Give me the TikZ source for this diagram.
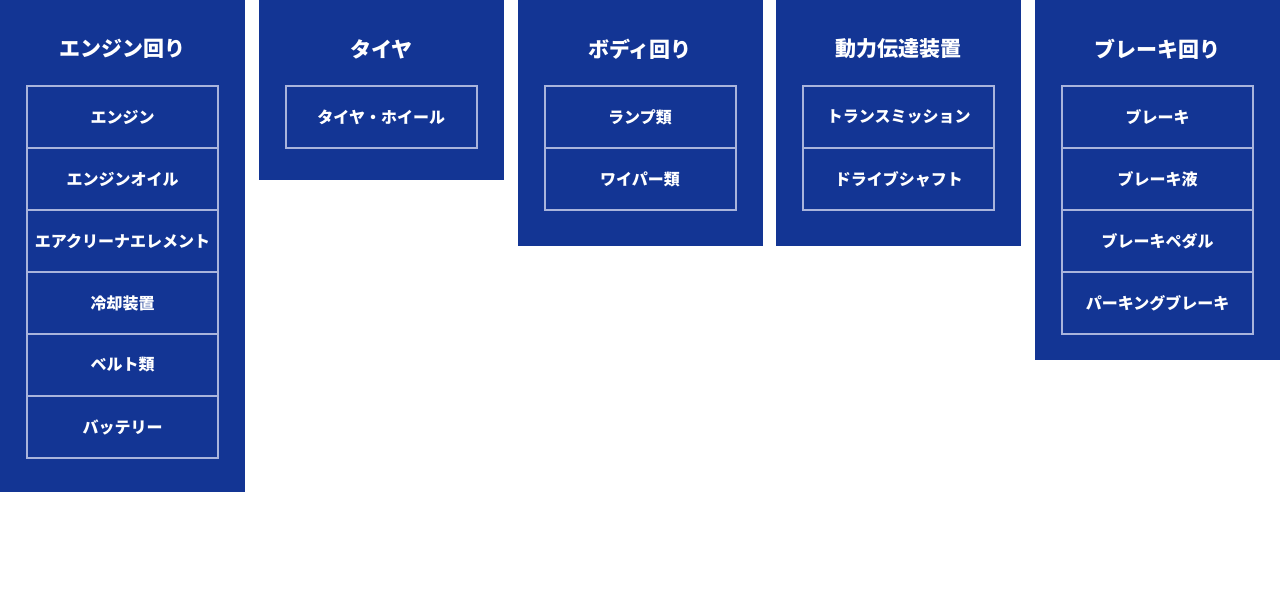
\documentclass[tikz,border=0pt]{standalone}
\usepackage{fontspec}
\setmainfont{Noto Sans CJK JP}
\usetikzlibrary{positioning}
\definecolor{panelblue}{HTML}{133594}
\definecolor{lineblue}{HTML}{A9B4DC}

\begin{document}
\begin{tikzpicture}[x=1pt,y=1pt,
  panel/.style={fill=panelblue,anchor=north west,minimum width=245pt,inner sep=0pt,outer sep=0pt},
  head/.style={text=white,font=\bfseries\fontsize{21}{25}\selectfont},
  part/.style={draw=lineblue,line width=2pt,text=white,font=\bfseries\fontsize{16}{19}\selectfont,
    minimum width=191pt,minimum height=62pt,inner sep=0pt,outer sep=0pt}]
  \useasboundingbox (0,0) rectangle (1280,-615);
  % panels
  \node[panel,minimum height=492pt] (engine) at (0,0) {};
  \node[panel,minimum height=180pt] (tire) at (258.75,0) {};
  \node[panel,minimum height=246pt] (body) at (517.5,0) {};
  \node[panel,minimum height=246pt] (drive) at (776.25,0) {};
  \node[panel,minimum height=360pt] (brake) at (1035,0) {};
  % headings
  \node[head] (engineT) at ([yshift=-49pt]engine.north) {エンジン回り};
  \node[head] (tireT) at ([yshift=-49pt]tire.north) {タイヤ};
  \node[head] (bodyT) at ([yshift=-49pt]body.north) {ボディ回り};
  \node[head] (driveT) at ([yshift=-49pt]drive.north) {動力伝達装置};
  \node[head] (brakeT) at ([yshift=-49pt]brake.north) {ブレーキ回り};
  % engine
  \node[part] (engine1) at ([yshift=-117pt]engine.north) {エンジン};
  \node[part,below=0pt of engine1] (engine2) {エンジンオイル};
  \node[part,below=0pt of engine2] (engine3) {エアクリーナエレメント};
  \node[part,below=0pt of engine3] (engine4) {冷却装置};
  \node[part,below=0pt of engine4] (engine5) {ベルト類};
  \node[part,below=0pt of engine5] (engine6) {バッテリー};
  % tire
  \node[part] (tire1) at ([yshift=-117pt]tire.north) {タイヤ・ホイール};
  % body
  \node[part] (body1) at ([yshift=-117pt]body.north) {ランプ類};
  \node[part,below=0pt of body1] (body2) {ワイパー類};
  % drive
  \node[part] (drive1) at ([yshift=-117pt]drive.north) {トランスミッション};
  \node[part,below=0pt of drive1] (drive2) {ドライブシャフト};
  % brake
  \node[part] (brake1) at ([yshift=-117pt]brake.north) {ブレーキ};
  \node[part,below=0pt of brake1] (brake2) {ブレーキ液};
  \node[part,below=0pt of brake2] (brake3) {ブレーキペダル};
  \node[part,below=0pt of brake3] (brake4) {パーキングブレーキ};
\end{tikzpicture}
\end{document}
